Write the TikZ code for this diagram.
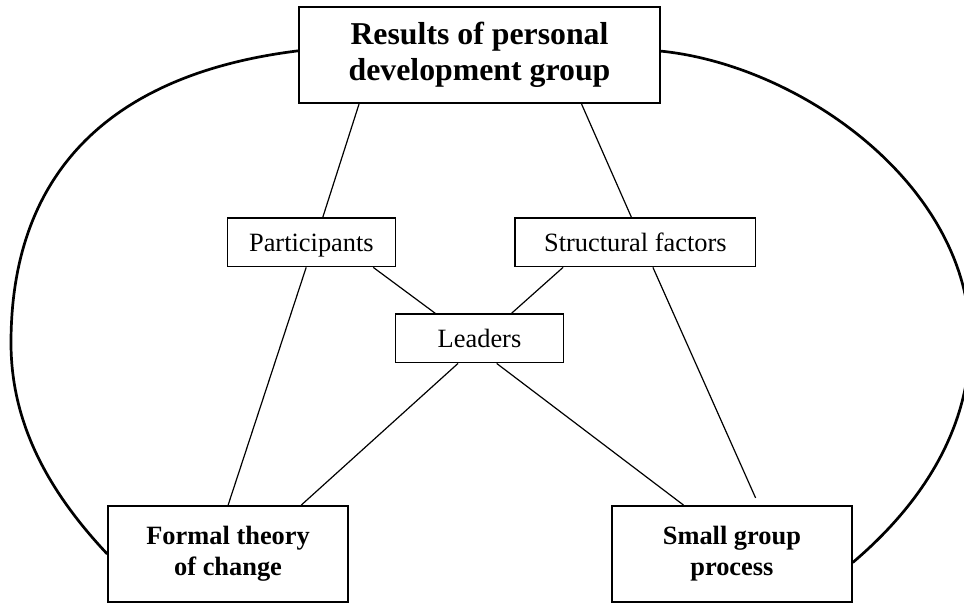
\documentclass[tikz,border=0pt]{standalone}
\usepackage{fontspec}
\setmainfont{Liberation Serif}
\usepackage{tikz}

\begin{document}
\begin{tikzpicture}[
    x=0.5pt, y=-0.5pt,
    frame/.style={rectangle, draw, line width=0.85pt, inner sep=0pt, align=center},
    box/.style={frame, minimum height=24.2pt, text height=8.8pt, text depth=0pt, font=\fontsize{13.2}{15.5}\selectfont},
    headbox/.style={frame, minimum width=180.2pt, minimum height=48.2pt, font=\fontsize{15.9}{18}\selectfont\bfseries},
    endbox/.style={frame, minimum width=120pt, minimum height=48pt, font=\fontsize{13.2}{15.5}\selectfont\bfseries},
    link/.style={line width=0.6pt},
    outerline/.style={line width=1.35pt}
]
\useasboundingbox (0,0) rectangle (964,603);

\node[headbox] (res) at (479.5,55.1) {Results of personal\\development group};
\node[box, minimum width=84pt] (part) at (311.4,242.3) {Participants};
\node[box, minimum width=120.2pt] (struct) at (635.4,242.3) {Structural factors};
\node[box, minimum width=84pt] (lead) at (479.5,338.4) {Leaders};
\node[endbox] (formal) at (228.1,554) {Formal theory\\of change};
\node[endbox] (small) at (731.9,554) {Small group\\process};

\draw[link] ([xshift=-60.25pt]res.south) -- ([xshift=5.7pt]part.north);
\draw[link] ([xshift=51.05pt]res.south) -- ([xshift=-2pt]struct.north);
\draw[link] ([xshift=-2.6pt]part.south) -- (formal.north);
\draw[link] ([xshift=30.9pt]part.south) -- ([xshift=-22.1pt]lead.north);
\draw[link] ([xshift=-36.15pt]struct.south) -- ([xshift=16pt]lead.north);
\draw[link] ([xshift=8.75pt]struct.south) -- ([xshift=11.85pt, yshift=3.6pt]small.north);
\draw[link] ([xshift=-10.75pt]lead.south) -- ([xshift=36.55pt]formal.north);
\draw[link] ([xshift=8.6pt]lead.south) -- ([xshift=-24.15pt]small.north);

\draw[outerline] ([yshift=2.15pt]res.west) .. controls (110,74) and (11,173) .. (11,343)
    .. controls (11,423) and (48,491) .. (formal.west);
\draw[outerline] ([yshift=2pt]res.east) .. controls (800,65) and (970,185) .. (970,340)
    .. controls (970,430) and (921,504.5) .. ([yshift=-4.25pt]small.east);

\end{tikzpicture}
\end{document}
